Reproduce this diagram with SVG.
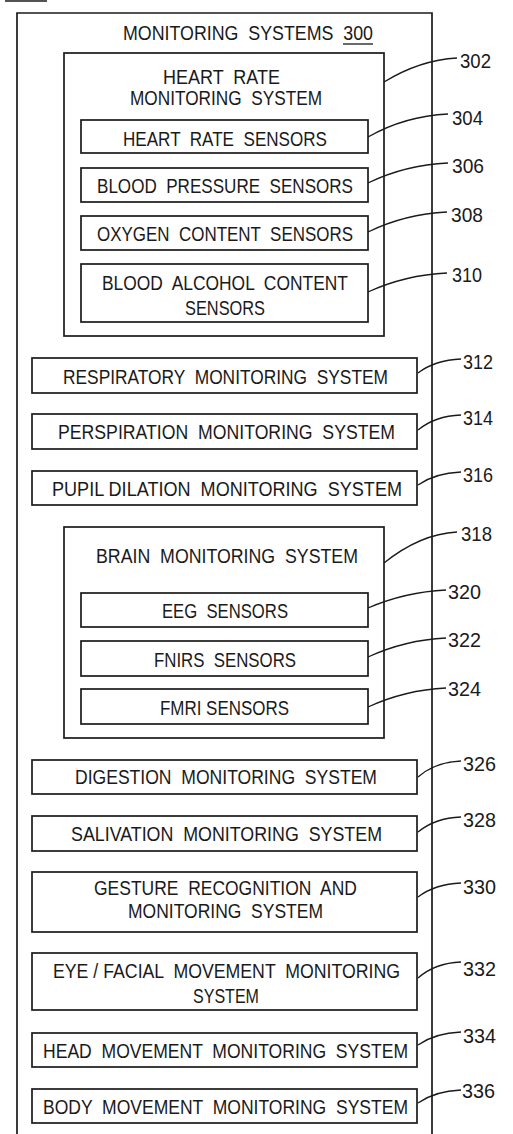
<svg xmlns="http://www.w3.org/2000/svg" width="513" height="1134" viewBox="0 0 513 1134">
<style>
.b{fill:none;stroke:#1a1a1a;stroke-width:1.7}
.t{font-family:"Liberation Sans",Arial,sans-serif;font-size:20px;fill:#1a1a1a;white-space:pre}
.l{fill:none;stroke:#1a1a1a;stroke-width:1.3}
</style>
<rect width="513" height="1134" fill="#fff"/>
<line x1="5" y1="1" x2="47" y2="1" class="b"/>
<g id="n300">
<path d="M17,1134 V13 H432 V1134" class="b"/>
<text class="t" x="123" y="40" textLength="250" lengthAdjust="spacingAndGlyphs" xml:space="preserve">MONITORING  SYSTEMS  300</text>
<line x1="343" y1="44" x2="373" y2="44" class="l"/>
</g>
<g id="n302">
<rect x="64" y="53" width="320" height="283" class="b"/>
<text class="t" x="163" y="84" textLength="117" lengthAdjust="spacingAndGlyphs" xml:space="preserve">HEART  RATE</text>
<text class="t" x="130" y="105" textLength="192" lengthAdjust="spacingAndGlyphs" xml:space="preserve">MONITORING  SYSTEM</text>
</g>
<g id="n304">
<rect x="81" y="120" width="287" height="33" class="b"/>
<text class="t" x="123" y="146" textLength="204" lengthAdjust="spacingAndGlyphs" xml:space="preserve">HEART  RATE  SENSORS</text>
</g>
<g id="n306">
<rect x="81" y="168" width="287" height="34" class="b"/>
<text class="t" x="97" y="193" textLength="256" lengthAdjust="spacingAndGlyphs" xml:space="preserve">BLOOD  PRESSURE  SENSORS</text>
</g>
<g id="n308">
<rect x="81" y="216" width="287" height="34" class="b"/>
<text class="t" x="97" y="241" textLength="256" lengthAdjust="spacingAndGlyphs" xml:space="preserve">OXYGEN  CONTENT  SENSORS</text>
</g>
<g id="n310">
<rect x="81" y="264" width="287" height="58" class="b"/>
<text class="t" x="102" y="290" textLength="246" lengthAdjust="spacingAndGlyphs" xml:space="preserve">BLOOD  ALCOHOL  CONTENT</text>
<text class="t" x="185" y="315" textLength="80" lengthAdjust="spacingAndGlyphs">SENSORS</text>
</g>
<g id="n312">
<rect x="32" y="358" width="385" height="35" class="b"/>
<text class="t" x="63" y="384" textLength="325" lengthAdjust="spacingAndGlyphs" xml:space="preserve">RESPIRATORY  MONITORING  SYSTEM</text>
</g>
<g id="n314">
<rect x="32" y="414" width="385" height="35" class="b"/>
<text class="t" x="58" y="439" textLength="337" lengthAdjust="spacingAndGlyphs" xml:space="preserve">PERSPIRATION  MONITORING  SYSTEM</text>
</g>
<g id="n316">
<rect x="32" y="471" width="385" height="34" class="b"/>
<text class="t" x="52" y="496" textLength="350" lengthAdjust="spacingAndGlyphs" xml:space="preserve">PUPIL DILATION  MONITORING  SYSTEM</text>
</g>
<g id="n318">
<rect x="64" y="527" width="320" height="211" class="b"/>
<text class="t" x="96" y="563" textLength="262" lengthAdjust="spacingAndGlyphs" xml:space="preserve">BRAIN  MONITORING  SYSTEM</text>
</g>
<g id="n320">
<rect x="81" y="593" width="287" height="34" class="b"/>
<text class="t" x="162" y="618" textLength="126" lengthAdjust="spacingAndGlyphs" xml:space="preserve">EEG  SENSORS</text>
</g>
<g id="n322">
<rect x="81" y="641" width="287" height="35" class="b"/>
<text class="t" x="154" y="667" textLength="142" lengthAdjust="spacingAndGlyphs" xml:space="preserve">FNIRS  SENSORS</text>
</g>
<g id="n324">
<rect x="81" y="689" width="287" height="35" class="b"/>
<text class="t" x="160" y="715" textLength="129" lengthAdjust="spacingAndGlyphs">FMRI SENSORS</text>
</g>
<g id="n326">
<rect x="32" y="760" width="385" height="34" class="b"/>
<text class="t" x="75" y="784" textLength="302" lengthAdjust="spacingAndGlyphs" xml:space="preserve">DIGESTION  MONITORING  SYSTEM</text>
</g>
<g id="n328">
<rect x="32" y="816" width="385" height="35" class="b"/>
<text class="t" x="71" y="841" textLength="311" lengthAdjust="spacingAndGlyphs" xml:space="preserve">SALIVATION  MONITORING  SYSTEM</text>
</g>
<g id="n330">
<rect x="32" y="872" width="385" height="60" class="b"/>
<text class="t" x="94" y="895" textLength="263" lengthAdjust="spacingAndGlyphs" xml:space="preserve">GESTURE  RECOGNITION  AND</text>
<text class="t" x="128" y="918" textLength="195" lengthAdjust="spacingAndGlyphs" xml:space="preserve">MONITORING  SYSTEM</text>
</g>
<g id="n332">
<rect x="32" y="953" width="385" height="57" class="b"/>
<text class="t" x="53" y="978" textLength="347" lengthAdjust="spacingAndGlyphs" xml:space="preserve">EYE / FACIAL  MOVEMENT  MONITORING</text>
<text class="t" x="193" y="1003" textLength="66" lengthAdjust="spacingAndGlyphs">SYSTEM</text>
</g>
<g id="n334">
<rect x="32" y="1033" width="385" height="34" class="b"/>
<text class="t" x="43" y="1058" textLength="365" lengthAdjust="spacingAndGlyphs" xml:space="preserve">HEAD  MOVEMENT  MONITORING  SYSTEM</text>
</g>
<g id="n336">
<rect x="32" y="1089" width="385" height="34" class="b"/>
<text class="t" x="43" y="1114" textLength="365" lengthAdjust="spacingAndGlyphs" xml:space="preserve">BODY  MOVEMENT  MONITORING  SYSTEM</text>
</g>
<g id="connectors">
<path class="l" d="M384,82 Q420,60 457,58"/>
<path class="l" d="M368,137 Q405,116 448,114"/>
<path class="l" d="M368,183 Q405,165 448,163"/>
<path class="l" d="M368,232 Q405,214 447,212"/>
<path class="l" d="M368,292 Q405,275 447,273"/>
<path class="l" d="M418,373 Q435,360 461,359"/>
<path class="l" d="M418,430 Q435,416 461,415"/>
<path class="l" d="M418,485 Q435,473 461,472"/>
<path class="l" d="M384,563 Q420,534 457,532"/>
<path class="l" d="M368,608 Q405,592 446,590"/>
<path class="l" d="M368,657 Q405,640 446,638"/>
<path class="l" d="M368,707 Q405,690 446,688"/>
<path class="l" d="M418,777 Q435,762 461,761"/>
<path class="l" d="M418,832 Q435,818 461,817"/>
<path class="l" d="M418,897 Q435,884 461,883"/>
<path class="l" d="M418,978 Q435,963 461,962"/>
<path class="l" d="M418,1045 Q435,1033 461,1032"/>
<path class="l" d="M418,1103 Q435,1091 461,1090"/>
</g>
<g id="labels">
<text class="t" x="460" y="68" textLength="31" lengthAdjust="spacingAndGlyphs">302</text>
<text class="t" x="452" y="125" textLength="31" lengthAdjust="spacingAndGlyphs">304</text>
<text class="t" x="452" y="173" textLength="32" lengthAdjust="spacingAndGlyphs">306</text>
<text class="t" x="451" y="222" textLength="32" lengthAdjust="spacingAndGlyphs">308</text>
<text class="t" x="452" y="282" textLength="30" lengthAdjust="spacingAndGlyphs">310</text>
<text class="t" x="463" y="369" textLength="30" lengthAdjust="spacingAndGlyphs">312</text>
<text class="t" x="463" y="425" textLength="30" lengthAdjust="spacingAndGlyphs">314</text>
<text class="t" x="463" y="482" textLength="30" lengthAdjust="spacingAndGlyphs">316</text>
<text class="t" x="461" y="541" textLength="31" lengthAdjust="spacingAndGlyphs">318</text>
<text class="t" x="448" y="599" textLength="33" lengthAdjust="spacingAndGlyphs">320</text>
<text class="t" x="448" y="647" textLength="33" lengthAdjust="spacingAndGlyphs">322</text>
<text class="t" x="448" y="696" textLength="33" lengthAdjust="spacingAndGlyphs">324</text>
<text class="t" x="463" y="771" textLength="33" lengthAdjust="spacingAndGlyphs">326</text>
<text class="t" x="463" y="827" textLength="33" lengthAdjust="spacingAndGlyphs">328</text>
<text class="t" x="463" y="894" textLength="33" lengthAdjust="spacingAndGlyphs">330</text>
<text class="t" x="463" y="976" textLength="33" lengthAdjust="spacingAndGlyphs">332</text>
<text class="t" x="463" y="1043" textLength="33" lengthAdjust="spacingAndGlyphs">334</text>
<text class="t" x="462" y="1098" textLength="33" lengthAdjust="spacingAndGlyphs">336</text>
</g>
</svg>
